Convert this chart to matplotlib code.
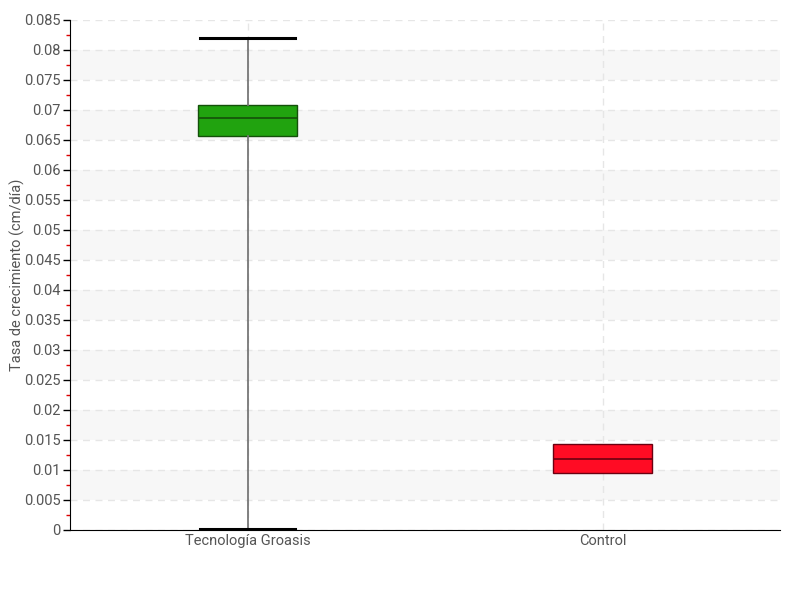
import matplotlib.pyplot as plt
import numpy as np
from matplotlib.ticker import MultipleLocator

plt.rcParams['font.family'] = ['Roboto', 'DejaVu Sans']

categories = ["Tecnología Groasis", "Control"]
whislo = [0.0002, 0.0095]
q1 = [0.0657, 0.0095]
median = [0.0687, 0.0119]
q3 = [0.0708, 0.0143]
whishi = [0.0820, 0.0143]
fills = ["#21a30f", "#ff0c24"]
edges = ["#14500a", "#6b0010"]

fig = plt.figure(figsize=(8, 6), dpi=100)
ax = fig.add_axes([0.0875, 0.1167, 0.8875, 0.85])

# alternating bands
for k in range(1, 17, 2):
    ax.axhspan(k * 0.005, (k + 1) * 0.005, color="#f7f7f7", zorder=0, lw=0)

ax.set_ylim(0, 0.085)
ax.set_xlim(-0.5, 1.5)
ax.yaxis.set_major_locator(MultipleLocator(0.005))
ax.yaxis.set_minor_locator(MultipleLocator(0.0025))
ax.grid(axis="y", which="major", color="#e6e6e6", linestyle=(0, (5, 4)), lw=1, zorder=1)
ax.grid(axis="x", which="major", color="#e6e6e6", linestyle=(0, (5, 4)), lw=1, zorder=1)

for i in range(len(categories)):
    st = [dict(whislo=whislo[i], q1=q1[i], med=median[i], q3=q3[i], whishi=whishi[i], fliers=[])]
    ax.bxp(st, positions=[i], widths=0.28, patch_artist=True, manage_ticks=False,
           boxprops=dict(facecolor=fills[i], edgecolor=edges[i], lw=1),
           medianprops=dict(color=edges[i], lw=1.2),
           whiskerprops=dict(color="#777777", lw=1.3),
           capprops=dict(color="black", lw=2.2) if whislo[i] < q1[i] else dict(lw=0),
           capwidths=0.27, zorder=3)

ax.set_xticks(range(len(categories)))
ax.set_xticklabels(categories)

labels = []
for v in np.arange(0, 0.0851, 0.005):
    s = f"{v:.3f}".rstrip("0").rstrip(".")
    labels.append(s if s else "0")
ax.set_yticks(np.arange(0, 0.0851, 0.005))
ax.set_yticklabels(labels)

ax.tick_params(axis="y", which="major", length=5, width=1, color="black", labelsize=10.5, labelcolor="#555555", pad=2)
ax.tick_params(axis="y", which="minor", length=3, width=1, color="#dd0000")
ax.tick_params(axis="x", length=0, labelsize=10.5, labelcolor="#555555", pad=3)

for s in ["top", "right"]:
    ax.spines[s].set_visible(False)
ax.spines["left"].set_color("black")
ax.spines["bottom"].set_color("black")

ax.set_ylabel("Tasa de crecimiento (cm/día)", fontsize=10.5, color="#555555")
ax.yaxis.set_label_coords(-0.063, 0.5)

fig.savefig("out.png", dpi=100)
